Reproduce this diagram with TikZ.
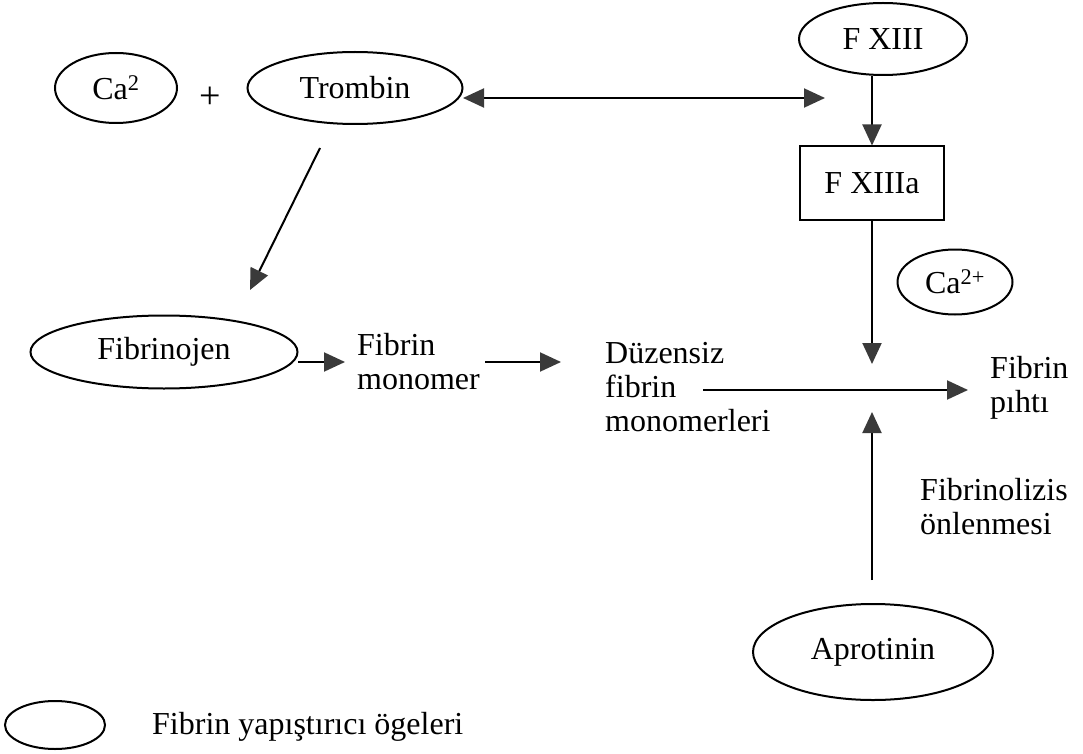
\documentclass[tikz,border=0pt]{standalone}
\usepackage{fontspec}
\setmainfont{Liberation Serif}
\usetikzlibrary{arrows.meta,shapes.geometric}
\definecolor{tipgray}{HTML}{3A3A3A}
\begin{document}
\begin{tikzpicture}[x=1pt,y=-1pt,
  every node/.style={font=\fontsize{32}{34}\selectfont},
  oval/.style={ellipse,draw,line width=2pt,inner sep=0pt},
  lbl/.style={align=left,anchor=west,inner sep=0pt},
  conn/.style={line width=2pt,-{Triangle[length=21pt,width=19pt,color=tipgray]}},
  biconn/.style={line width=2pt,{Triangle[length=21pt,width=19pt,color=tipgray]}-{Triangle[length=21pt,width=19pt,color=tipgray]}}]
\useasboundingbox (0,0) rectangle (1083,754);
% nodes
\node[oval,minimum width=122pt,minimum height=70pt] (ca) at (116,88) {Ca\textsuperscript{2}};
\node[font=\fontsize{38}{38}\selectfont] (plus) at (210,98) {+};
\node[oval,minimum width=215pt,minimum height=72pt] (trombin) at (355,88) {Trombin};
\node[oval,minimum width=168pt,minimum height=72pt] (f13) at (883,39) {F XIII};
\node[draw,line width=2pt,minimum width=144pt,minimum height=73pt,inner sep=0pt] (f13a) at (872,183) {F XIIIa};
\node[oval,minimum width=115pt,minimum height=65pt] (ca2) at (955,282) {Ca\textsuperscript{2+}};
\node[oval,minimum width=267pt,minimum height=73pt] (fibrinojen) at (164,352) {Fibrinojen};
\node[lbl] (monomer) at (357,362) {Fibrin\\monomer};
\node[lbl] (duzensiz) at (605,387) {Düzensiz\\fibrin\\monomerleri};
\node[lbl] (pihti) at (990,388) {Fibrin\\pıhtı};
\node[lbl] (fibrinolizis) at (920,507) {Fibrinolizis\\önlenmesi};
\node[oval,minimum width=240pt,minimum height=96pt] (aprotinin) at (873,652) {Aprotinin};
\node[oval,minimum width=100pt,minimum height=48pt] (legend) at (55,725) {};
\node[lbl] (legendtxt) at (152,727) {Fibrin yapıştırıcı ögeleri};
% coordinates
\coordinate (dblstart) at (463,98);
\coordinate (dblend) at (825,98);
\coordinate (trA) at (320,148);
\coordinate (trB) at (250,290);
\coordinate (fjA) at (298,362);
\coordinate (fjB) at (345,362);
\coordinate (mA) at (485,362);
\coordinate (mB) at (561,362);
\coordinate (hstart) at (703,390);
\coordinate (htip) at (968,390);
\coordinate (downtip) at (872,364);
\coordinate (upstart) at (872,580);
\coordinate (uptip) at (872,412);
% connectors
\draw[biconn] (dblstart) -- (dblend);
\draw[conn] (f13a.north |- f13.south) -- (f13a.north);
\draw[conn] (f13a.south) -- (downtip);
\draw[conn] (trA) -- (trB);
\draw[conn] (fjA) -- (fjB);
\draw[conn] (mA) -- (mB);
\draw[conn] (hstart) -- (htip);
\draw[conn] (upstart) -- (uptip);
\end{tikzpicture}
\end{document}
